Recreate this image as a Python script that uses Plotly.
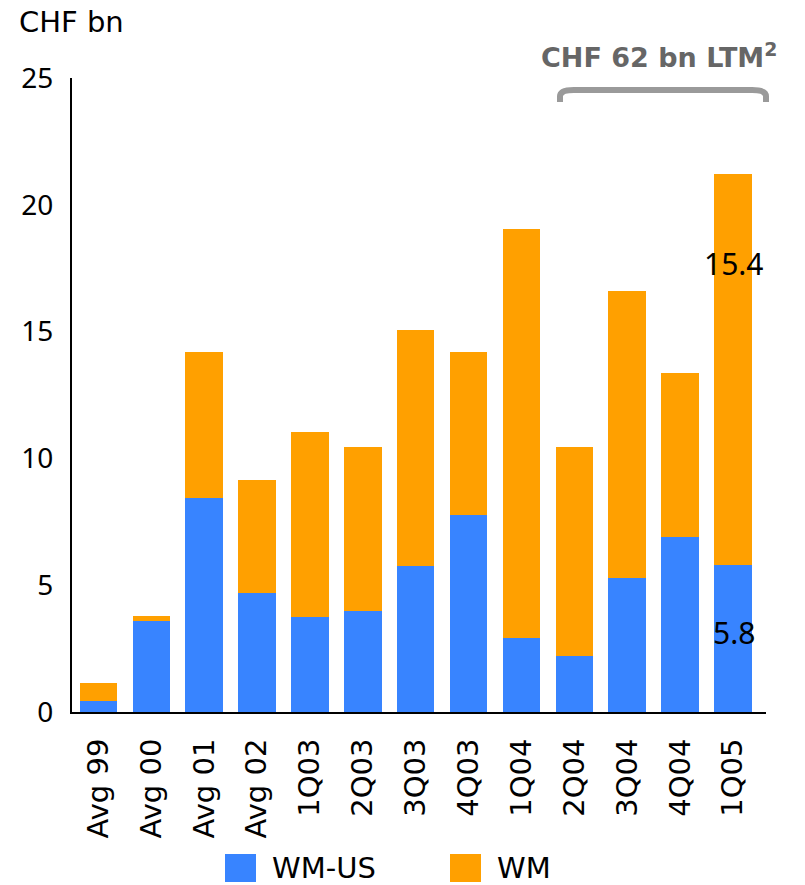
import plotly.graph_objects as go

categories = ["Avg 99", "Avg 00", "Avg 01", "Avg 02", "1Q03", "2Q03", "3Q03",
              "4Q03", "1Q04", "2Q04", "3Q04", "4Q04", "1Q05"]
wm_us = [0.43, 3.6, 8.45, 4.7, 3.75, 4.0, 5.75, 7.75, 2.9, 2.2, 5.3, 6.9, 5.8]
wm = [0.7, 0.2, 5.75, 4.45, 7.3, 6.45, 9.3, 6.45, 16.15, 8.25, 11.3, 6.45, 15.4]
y_ticks = [0, 5, 10, 15, 20, 25]

BLUE = "#3884FF"
ORANGE = "#FFA000"
FONT = "DejaVu Sans"
FS = 28

W, H = 805, 885
OFF = 8  # page body margin offset
# desired screen positions of plot area
SX0, SX1, SY0, SY1 = 72, 766, 78, 712
L = SX0 - OFF
R = W - (SX1 - OFF)
T = SY0 - OFF
B = H - (SY1 - OFF)
PW = W - L - R
PH = H - T - B


def px_x(px):
    return (px - SX0) / PW


def px_y(py):
    return (SY1 - py) / PH


fig = go.Figure()
fig.add_trace(go.Bar(x=categories, y=wm_us, name="WM-US", marker_color=BLUE,
                     marker_line_width=0, showlegend=False))
fig.add_trace(go.Bar(x=categories, y=wm, name="WM", marker_color=ORANGE,
                     marker_line_width=0, showlegend=False))

fig.update_layout(
    barmode="stack",
    bargap=0.29,
    width=W, height=H,
    margin=dict(l=L, r=R, t=T, b=B, autoexpand=False),
    plot_bgcolor="white", paper_bgcolor="white",
    font=dict(family=FONT, size=FS, color="black"),
)
fig.update_yaxes(range=[0, 25], tickvals=y_ticks, showgrid=False, zeroline=False,
                 showline=True, linecolor="black", linewidth=2, ticks="",
                 automargin=False, ticklabelstandoff=11,
                 tickfont=dict(size=FS, family="Noto Sans"))
fig.update_xaxes(showgrid=False, showline=True, linecolor="black", linewidth=2,
                 ticks="", tickangle=-90, ticklabelstandoff=13, automargin=False,
                 tickfont=dict(size=29))

# axis unit label
fig.add_annotation(text="CHF bn", xref="paper", yref="paper", x=px_x(17), y=px_y(22),
                   xanchor="left", yanchor="middle", showarrow=False,
                   font=dict(size=29, color="black"))

# value labels for last bar
fig.add_annotation(text="15.4", x="1Q05", y=17.7, showarrow=False,
                   xanchor="center", yanchor="middle", xshift=1,
                   font=dict(size=30, color="black", family="Noto Sans"))
fig.add_annotation(text="5.8", x="1Q05", y=3.15, showarrow=False,
                   xanchor="center", yanchor="middle", xshift=1,
                   font=dict(size=30, color="black", family="Noto Sans"))

# bracket + LTM label
x0, x1 = px_x(560), px_x(766)
yt, yb = px_y(90), px_y(102)
rx, ry = 0.02, 0.01
fig.add_shape(type="path", xref="paper", yref="paper",
              path=f"M {x0},{yb} L {x0},{yt-ry} Q {x0},{yt} {x0+rx},{yt} "
                   f"L {x1-rx},{yt} Q {x1},{yt} {x1},{yt-ry} L {x1},{yb}",
              line=dict(color="#9A9A9A", width=6))
fig.add_annotation(text="<b>CHF 62 bn LTM<sup>2</sup></b>", xref="paper", yref="paper",
                   x=px_x(659), y=px_y(55), xanchor="center", yanchor="middle",
                   showarrow=False, font=dict(size=27, color="#666666"))

# legend drawn manually
leg = [(BLUE, "WM-US", 225), (ORANGE, "WM", 450)]
for color, label, px in leg:
    fig.add_shape(type="rect", xref="paper", yref="paper",
                  x0=px_x(px), x1=px_x(px + 31), y0=px_y(882), y1=px_y(854),
                  fillcolor=color, line_width=0)
    fig.add_annotation(text=label, xref="paper", yref="paper",
                       x=px_x(px + 45), y=px_y(868),
                       xanchor="left", yanchor="middle", showarrow=False,
                       font=dict(size=29, color="black"))

fig.write_html("out.html")
